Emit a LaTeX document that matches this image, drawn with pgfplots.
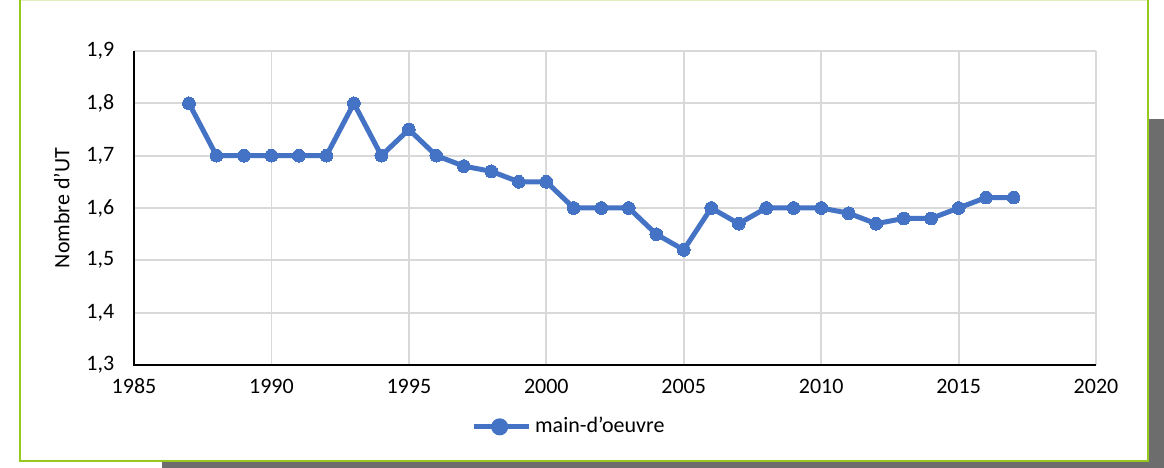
\documentclass[border=0pt]{standalone}
\usepackage{pgfplots}
\pgfplotsset{compat=1.18}
\usepackage{fontspec}
\setmainfont{Carlito}
\definecolor{lineblue}{RGB}{68,114,196}
\definecolor{framegreen}{RGB}{150,200,30}
\definecolor{shadowgray}{RGB}{109,109,109}
\definecolor{gridgray}{RGB}{217,217,217}
\begin{document}
\fontsize{11bp}{13bp}\selectfont
\begin{tikzpicture}[x=0.5bp,y=0.5bp]
\useasboundingbox (0,0) rectangle (1164,468);
% shadow
\fill[shadowgray] (1149,0) rectangle (1164,349);
\fill[shadowgray] (162,0) rectangle (1164,6);
% frame
\fill[white] (20,7) rectangle (1148,468);
\draw[framegreen!30, line width=1bp] (20,467.5) -- (1148,467.5);
\draw[framegreen, line width=1.2bp] (20,468) -- (20,7) -- (1148,7) -- (1148,468);
\begin{axis}[
  at={(67bp,51.5bp)}, anchor=south west,
  scale only axis, width=481bp, height=157bp,
  xmin=1985, xmax=2020, ymin=1.3, ymax=1.9,
  xtick={1985,1990,...,2020},
  ytick={1.3,1.4,...,1.9},
  grid=major,
  major grid style={gridgray, line width=0.9bp},
  axis line style={draw=none},
  tick style={draw=none},
  /pgf/number format/assume math mode=true,
  yticklabel style={/pgf/number format/use comma, /pgf/number format/fixed, /pgf/number format/fixed zerofill, /pgf/number format/precision=1, xshift=-6bp},
  xticklabel style={/pgf/number format/set thousands separator={}, yshift=-3bp},
  ylabel={Nombre d\symbol{39}UT},
  ylabel style={yshift=1bp},
  legend style={at={(0.453,-0.197)}, anchor=center, draw=none, fill=none,
    font=\fontsize{11bp}{13bp}\selectfont, inner sep=0pt},
  legend image code/.code={
    \draw[lineblue, line width=2.5bp] (0bp,0bp) -- (27.5bp,0bp);
    \fill[lineblue] (13bp,0bp) circle (3bp);
  },
  legend cell align=left,
  clip=false,
]
\addplot[lineblue, line width=2.5bp, mark=*, mark size=3.2bp, mark options={fill=lineblue, draw=lineblue, line width=0pt}] coordinates {
(1987,1.80) (1988,1.70) (1989,1.70) (1990,1.70) (1991,1.70) (1992,1.70)
(1993,1.80) (1994,1.70) (1995,1.75) (1996,1.70) (1997,1.68) (1998,1.67)
(1999,1.65) (2000,1.65) (2001,1.60) (2002,1.60) (2003,1.60) (2004,1.55)
(2005,1.52) (2006,1.60) (2007,1.57) (2008,1.60) (2009,1.60) (2010,1.60)
(2011,1.59) (2012,1.57) (2013,1.58) (2014,1.58) (2015,1.60) (2016,1.62)
(2017,1.62)
};
\addlegendentry{main-d\symbol{39}oeuvre}
\draw[black, line width=0.8bp] (axis cs:1985,1.9) -- (axis cs:1985,1.3) -- (axis cs:2020,1.3);
\end{axis}
\end{tikzpicture}
\end{document}
